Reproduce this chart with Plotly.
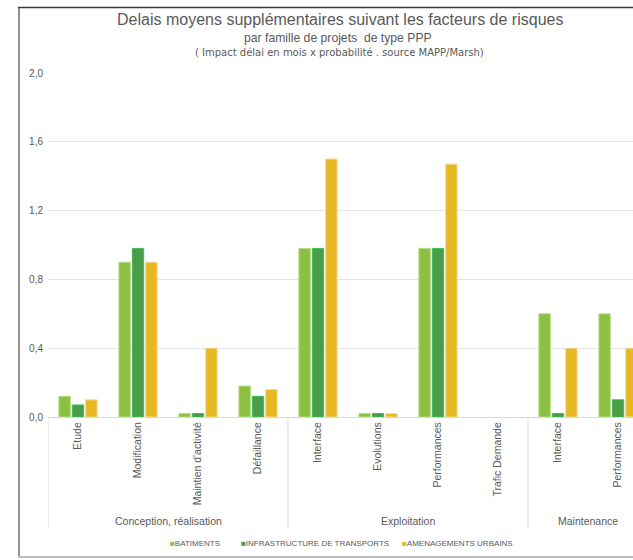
import plotly.graph_objects as go

groups = ["Conception, réalisation", "Exploitation", "Maintenance"]
group_sizes = [4, 4, 2]
categories = ["Etude", "Modification", "Maintien d'activité", "Défaillance",
              "Interface", "Evolutions", "Performances", "Trafic Demande",
              "Interface", "Performances"]
batiments = [0.12, 0.90, 0.02, 0.18, 0.98, 0.02, 0.98, 0.0, 0.60, 0.60]
infrastructure = [0.07, 0.98, 0.02, 0.12, 0.98, 0.02, 0.98, 0.0, 0.02, 0.10]
amenagements = [0.10, 0.90, 0.40, 0.16, 1.50, 0.02, 1.47, 0.0, 0.40, 0.40]
y_ticks = [0.0, 0.4, 0.8, 1.2, 1.6, 2.0]

series = [
    ("BATIMENTS", batiments, "#8cbf42", "#b5dc84"),
    ("INFRASTRUCTURE DE TRANSPORTS", infrastructure, "#4b9c48", "#3cbf55"),
    ("AMENAGEMENTS URBAINS", amenagements, "#e6b821", "#f7dc8a"),
]

FONT = "Liberation Sans"
GRAY = "#595959"
xpos = list(range(len(categories)))

fig = go.Figure()
for name, vals, col, edge in series:
    fig.add_trace(go.Bar(
        x=xpos, y=vals, name=name, showlegend=False,
        marker=dict(color=col, line=dict(color=edge, width=[0 if v == 0 else 1 for v in vals])),
    ))

W, H = 633, 560
L, T, B, R = 48, 73, 143, 0
ph = H - T - B
pw = W - L - R

def py(pix):
    return (H - B - pix) / ph

def px(pix):
    return (pix - L) / pw

shapes = []
start = 0
bounds = [-0.5]
for s in group_sizes:
    start += s
    bounds.append(start - 0.5)
for b in bounds:
    shapes.append(dict(type="line", xref="x", yref="paper", x0=b, x1=b,
                       y0=0, y1=py(528), line=dict(color="#d9d9d9", width=1)))
# outer frame
shapes.append(dict(type="line", xref="paper", yref="paper", x0=px(19), x1=px(19),
                   y0=py(7), y1=py(557), line=dict(color="#6e6e6e", width=1.5)))
shapes.append(dict(type="line", xref="paper", yref="paper", x0=px(18), x1=px(640),
                   y0=py(7.5), y1=py(7.5), line=dict(color="#3a3a3a", width=1.5)))
shapes.append(dict(type="line", xref="paper", yref="paper", x0=px(18), x1=px(640),
                   y0=py(557), y1=py(557), line=dict(color="#bdbdbd", width=2)))

annotations = [
    dict(text="Delais moyens supplémentaires suivant les facteurs de risques",
         x=px(340), y=py(20), font=dict(size=16, color=GRAY)),
    dict(text="par famille de projets  de type PPP",
         x=px(338), y=py(38), font=dict(size=12.2, color=GRAY)),
    dict(text="( Impact délai en mois x probabilité . source MAPP/Marsh)",
         x=px(339), y=py(53), font=dict(size=10, color=GRAY, family="DejaVu Sans")),
]
for a in annotations:
    a.update(xref="paper", yref="paper", showarrow=False, xanchor="center", yanchor="middle")

start = 0
for g, s in zip(groups, group_sizes):
    center = start + (s - 1) / 2
    annotations.append(dict(text=g, xref="x", yref="paper", x=center, y=py(521),
                            showarrow=False, xanchor="center", yanchor="middle",
                            font=dict(size=10.5, color=GRAY)))
    start += s

# legend (drawn as text items)
legend_x = [168, 239, 400]
for (name, vals, col, edge), lx in zip(series, legend_x):
    annotations.append(dict(
        text=f"<span style='color:{col}'>■</span>{name}",
        xref="paper", yref="paper", x=px(lx), y=py(543),
        showarrow=False, xanchor="left", yanchor="middle",
        font=dict(size=8, color=GRAY)))

fig.update_layout(
    width=W, height=H,
    margin=dict(l=L, r=R, t=T, b=B, pad=0),
    paper_bgcolor="white", plot_bgcolor="white",
    font=dict(family=FONT, color=GRAY),
    separators=", ",
    barmode="group", bargap=0.33, bargroupgap=0.15,
    showlegend=False,
    shapes=shapes, annotations=annotations,
)
fig.update_xaxes(range=[-0.5, -0.5 + pw / 60.0], tickvals=xpos, ticktext=categories,
                 tickangle=-90, tickfont=dict(size=10.5, color=GRAY),
                 showline=True, linecolor="#d9d9d9", linewidth=1,
                 ticks="", showgrid=False, zeroline=False, fixedrange=True)
fig.update_yaxes(range=[0, 2.0], tickvals=y_ticks, tickformat=".1f",
                 tickfont=dict(size=10, color=GRAY), showgrid=True, gridcolor="#e4e4e4",
                 gridwidth=1, zeroline=False, showline=False, ticks="",
                 ticklabelstandoff=4, fixedrange=True)

fig.write_html("out.html")
